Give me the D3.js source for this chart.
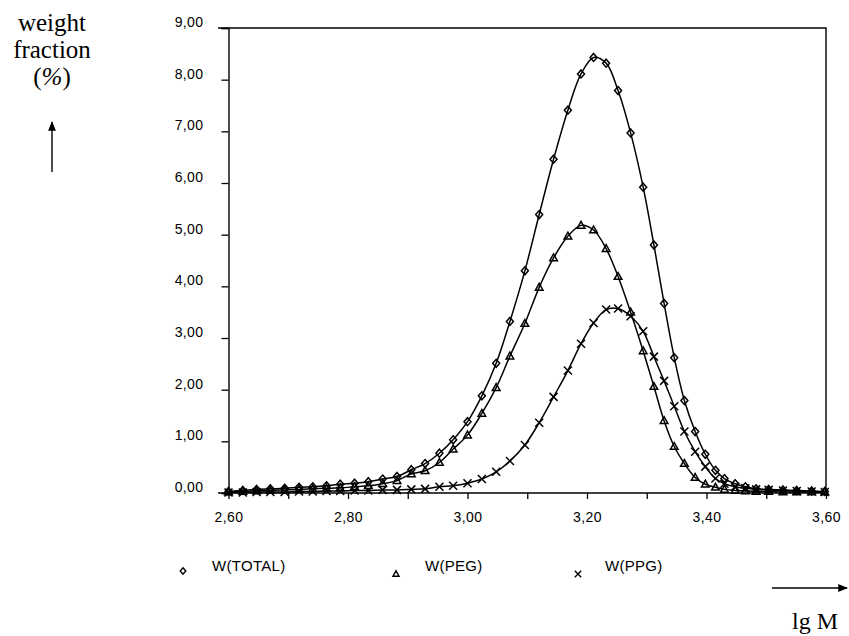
<!DOCTYPE html>
<html>
<head>
  <meta charset="utf-8">
  <title>weight fraction vs lg M</title>
  <style>
    body { margin: 0; background: #fff; }
  </style>
</head>
<body>
<script src="https://cdnjs.cloudflare.com/ajax/libs/d3/7.8.5/d3.min.js"></script>
<script>
// lg M values, one per sample point (same grid for all three series)
const lgM = [2.600, 2.624, 2.647, 2.670, 2.694, 2.718, 2.741, 2.764, 2.787, 2.811,
  2.834, 2.858, 2.882, 2.906, 2.929, 2.953, 2.976, 3.000, 3.024, 3.048,
  3.071, 3.096, 3.120, 3.144, 3.168, 3.190, 3.211, 3.232, 3.252, 3.273,
  3.294, 3.312, 3.329, 3.346, 3.363, 3.381, 3.398, 3.415, 3.430, 3.448,
  3.465, 3.483, 3.504, 3.528, 3.551, 3.576, 3.598];

const wTotal = [0.03, 0.05, 0.07, 0.08, 0.09, 0.11, 0.12, 0.14, 0.17, 0.19,
  0.22, 0.27, 0.32, 0.45, 0.57, 0.77, 1.03, 1.38, 1.88, 2.51,
  3.32, 4.30, 5.39, 6.46, 7.41, 8.11, 8.43, 8.32, 7.79, 6.97,
  5.92, 4.80, 3.67, 2.62, 1.79, 1.19, 0.75, 0.44, 0.28, 0.18,
  0.12, 0.08, 0.07, 0.06, 0.05, 0.04, 0.03];

const wPeg = [0.02, 0.03, 0.04, 0.05, 0.06, 0.07, 0.08, 0.09, 0.10, 0.12,
  0.14, 0.18, 0.24, 0.37, 0.43, 0.59, 0.85, 1.12, 1.54, 2.04,
  2.65, 3.28, 3.98, 4.55, 4.97, 5.18, 5.09, 4.73, 4.19, 3.50,
  2.75, 2.06, 1.40, 0.90, 0.57, 0.30, 0.17, 0.11, 0.07, 0.05,
  0.04, 0.03, 0.03, 0.02, 0.02, 0.02, 0.02];

const wPpg = [0.01, 0.01, 0.02, 0.02, 0.02, 0.03, 0.03, 0.04, 0.04, 0.05,
  0.05, 0.06, 0.06, 0.07, 0.08, 0.12, 0.14, 0.19, 0.27, 0.41,
  0.62, 0.93, 1.36, 1.86, 2.37, 2.89, 3.29, 3.55, 3.57, 3.42,
  3.13, 2.64, 2.17, 1.68, 1.19, 0.80, 0.51, 0.28, 0.18, 0.12,
  0.09, 0.07, 0.06, 0.05, 0.04, 0.03, 0.02];

const yTicks = [0, 1, 2, 3, 4, 5, 6, 7, 8, 9];
const xTicks = [2.6, 2.7, 2.8, 2.9, 3.0, 3.1, 3.2, 3.3, 3.4, 3.5, 3.6];
const xLabels = [2.6, 2.8, 3.0, 3.2, 3.4, 3.6];

const seriesNames = ["W(TOTAL)", "W(PEG)", "W(PPG)"];
const seriesValues = [wTotal, wPeg, wPpg];
const seriesMarks = ["diamond", "triangle", "cross"];

const width = 849, height = 636;
const svg = d3.select("body").append("svg")
  .attr("width", width).attr("height", height)
  .style("font-family", "'Liberation Sans', Arial, sans-serif");

const x = d3.scaleLinear().domain([2.6, 3.6]).range([228.5, 826]);
const y = d3.scaleLinear().domain([0, 9]).range([493, 28]);

const comma = v => d3.format(".2f")(v).replace(".", ",");

// frame: top and right lines (top one pokes out to the left like the axes)
svg.append("path")
  .attr("d", `M218,${y(9)}H${x(3.6)}V${y(0)}`)
  .attr("fill", "none").attr("stroke", "#000").attr("stroke-width", 1.4);

// y axis
const yAxis = svg.append("g").attr("transform", `translate(${x(2.6)},0)`)
  .call(d3.axisLeft(y).tickValues(yTicks).tickSize(7).tickPadding(18).tickFormat(comma));
yAxis.select(".domain").attr("stroke-width", 1.4);
yAxis.selectAll(".tick line").attr("stroke-width", 1.3);
yAxis.selectAll("text").attr("font-size", 14).attr("letter-spacing", "0.4px")
  .attr("dy", "-0.1em").attr("fill", "#000");

// x axis
const xAxis = svg.append("g").attr("transform", `translate(0,${y(0)})`)
  .call(d3.axisBottom(x).tickValues(xTicks).tickSize(6).tickPadding(13)
    .tickFormat(d => xLabels.some(v => Math.abs(v - d) < 1e-9) ? comma(d) : ""));
xAxis.select(".domain").attr("d", `M218,0H${x(3.6)}`).attr("stroke-width", 1.4);
xAxis.selectAll(".tick line").attr("stroke-width", 1.3);
xAxis.selectAll("text").attr("font-size", 14).attr("letter-spacing", "0.4px").attr("fill", "#000");

// curves
const line = d3.line()
  .x((d, i) => x(lgM[i]))
  .y(d => y(d))
  .curve(d3.curveCatmullRom);

svg.append("g").selectAll("path")
  .data(seriesValues)
  .join("path")
  .attr("d", d => line(d))
  .attr("fill", "none").attr("stroke", "#000").attr("stroke-width", 1.5);

// marker shapes
function markPath(kind, s) {
  if (kind === "diamond") return `M0,${-4 * s}L${3.5 * s},0L0,${4 * s}L${-3.5 * s},0Z`;
  if (kind === "triangle") return `M0,${-4 * s}L${3.8 * s},${2.8 * s}L${-3.8 * s},${2.8 * s}Z`;
  return `M${-4 * s},${-4 * s}L${4 * s},${4 * s}M${4 * s},${-4 * s}L${-4 * s},${4 * s}`;
}

seriesValues.forEach((vals, k) => {
  svg.append("g").selectAll("path")
    .data(vals)
    .join("path")
    .attr("transform", (d, i) => `translate(${x(lgM[i])},${y(d)})`)
    .attr("d", markPath(seriesMarks[k], 1))
    .attr("fill", "none").attr("stroke", "#000").attr("stroke-width", 1.5);
});

// legend
const legendX = [183, 396, 578];
const legendTextX = [212, 425, 605];
seriesNames.forEach((name, k) => {
  svg.append("path")
    .attr("transform", `translate(${legendX[k]},${k === 0 ? 571 : 574})`)
    .attr("d", markPath(seriesMarks[k], 0.8))
    .attr("fill", "none").attr("stroke", "#000").attr("stroke-width", 1.4);
  svg.append("text")
    .attr("x", legendTextX[k]).attr("y", 571)
    .attr("font-size", 15).attr("letter-spacing", "0.3px")
    .text(name);
});

// axis titles (serif) with arrows
const serif = "'Liberation Serif', 'Times New Roman', serif";
const titleY = svg.append("text")
  .attr("text-anchor", "middle")
  .attr("font-family", serif).attr("font-size", 25);
titleY.append("tspan").attr("x", 52).attr("y", 31).text("weight");
titleY.append("tspan").attr("x", 52).attr("y", 58).text("fraction");
const pct = titleY.append("tspan").attr("x", 52).attr("y", 85);
pct.text("(");
titleY.append("tspan").attr("font-style", "italic").text("%");
titleY.append("tspan").text(")");

svg.append("defs").append("marker")
  .attr("id", "arrow").attr("viewBox", "0 0 10 10")
  .attr("refX", 9).attr("refY", 5)
  .attr("markerWidth", 7).attr("markerHeight", 7)
  .attr("orient", "auto")
  .append("path").attr("d", "M0,1L10,5L0,9Z").attr("fill", "#000");

svg.append("line")
  .attr("x1", 52).attr("y1", 172).attr("x2", 52).attr("y2", 122)
  .attr("stroke", "#000").attr("stroke-width", 1.4)
  .attr("marker-end", "url(#arrow)");

svg.append("line")
  .attr("x1", 772).attr("y1", 588).attr("x2", 847).attr("y2", 588)
  .attr("stroke", "#000").attr("stroke-width", 1.4)
  .attr("marker-end", "url(#arrow)");

svg.append("text")
  .attr("x", 815).attr("y", 629)
  .attr("text-anchor", "middle")
  .attr("font-family", serif).attr("font-size", 24)
  .text("lg M");
</script>
</body>
</html>
